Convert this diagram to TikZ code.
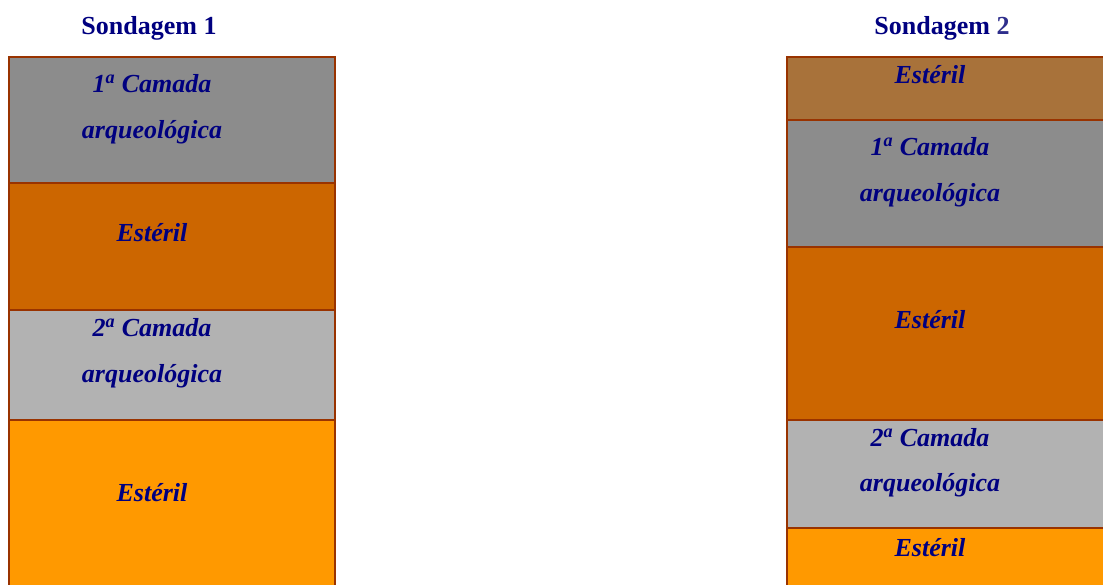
\documentclass[tikz,border=0pt]{standalone}
\usepackage{fontspec}
\setmainfont{Liberation Serif}
\definecolor{sdnavy}{HTML}{000080}
\definecolor{sdnavylt}{HTML}{2E2E8C}
\definecolor{sdedge}{HTML}{993300}
\definecolor{sdgrey}{HTML}{8C8C8C}
\definecolor{sdgreylt}{HTML}{B2B2B2}
\definecolor{sdrust}{HTML}{CC6600}
\definecolor{sdorange}{HTML}{FF9900}
\definecolor{sdbrown}{HTML}{A8723A}
\tikzset{
  sd layer/.style={draw=sdedge, line width=1.5pt},
  sd title/.style={font=\fontsize{26}{30}\selectfont\bfseries, text=sdnavy, anchor=base, inner sep=0pt},
  sd label/.style={font=\fontsize{26}{30}\selectfont\bfseries\itshape, text=sdnavy, anchor=base, inner sep=0pt}
}

\begin{document}
\begin{tikzpicture}[x=1pt, y=-1pt]
  \useasboundingbox (0,0) rectangle (1103,585);
  % Sondagem 1
  \foreach \top/\bot/\col in {57/183/sdgrey,183/310/sdrust,310/420/sdgreylt,420/600/sdorange}
    \draw[sd layer, fill=\col] (9,\top) rectangle (335,\bot);
  % Sondagem 2
  \foreach \top/\bot/\col in {57/120/sdbrown,120/247/sdgrey,247/420/sdrust,420/528/sdgreylt,528/600/sdorange}
    \draw[sd layer, fill=\col] (787,\top) rectangle (1115,\bot);

  \node[sd title] (t1) at (149,34.5) {Sondagem 1};
  \node[sd title] (t2) at (942,34.5) {Sondagem \textcolor{sdnavylt}{2}};

  \node[sd label] (a1) at (152,92.5) {1\textsuperscript{a} Camada};
  \node[sd label] (a2) at (152,138.5) {arqueológica};
  \node[sd label] (a3) at (152,241.5) {Estéril};
  \node[sd label] (a4) at (152,336.5) {2\textsuperscript{a} Camada};
  \node[sd label] (a5) at (152,382.5) {arqueológica};
  \node[sd label] (a6) at (152,501.5) {Estéril};

  \node[sd label] (b1) at (930,83.5) {Estéril};
  \node[sd label] (b2) at (930,155.5) {1\textsuperscript{a} Camada};
  \node[sd label] (b3) at (930,201.5) {arqueológica};
  \node[sd label] (b4) at (930,328.5) {Estéril};
  \node[sd label] (b5) at (930,446.5) {2\textsuperscript{a} Camada};
  \node[sd label] (b6) at (930,491.5) {arqueológica};
  \node[sd label] (b7) at (930,556.5) {Estéril};
\end{tikzpicture}
\end{document}
